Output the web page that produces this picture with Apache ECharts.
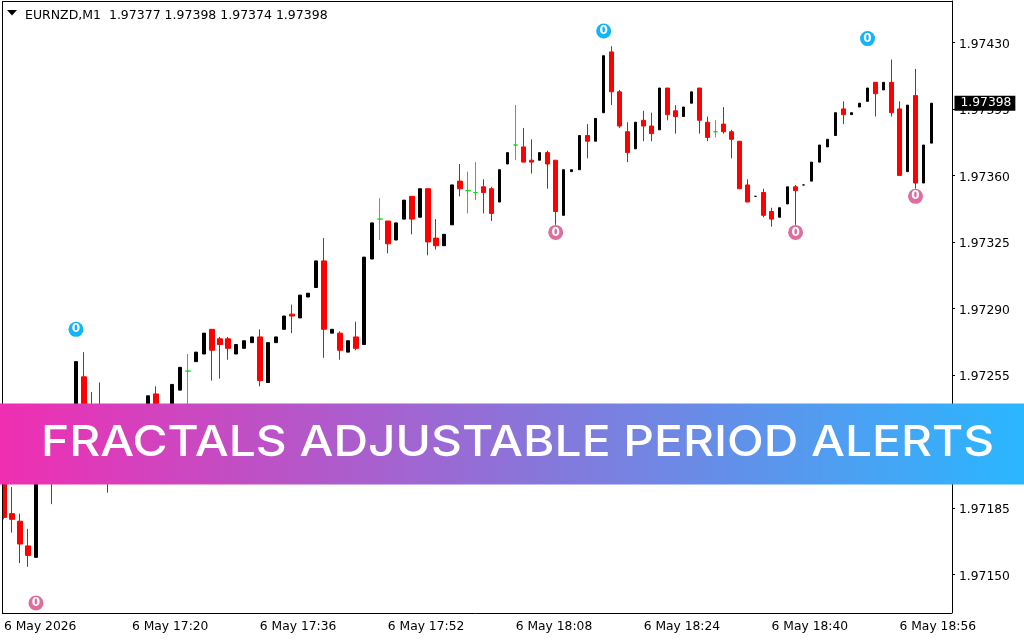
<!DOCTYPE html>
<html>
<head>
<meta charset="utf-8">
<title>EURNZD M1</title>
<script src="https://cdn.jsdelivr.net/npm/echarts@6/dist/echarts.min.js"></script>
<style>
html, body { margin: 0; padding: 0; background: #fff; }
#chart { width: 1024px; height: 640px; }
</style>
</head>
<body>
<div id="chart"></div>
<script>
// one bar per minute, 6 May 17:04 to 19:00 (two empty slots on the right)
var startMinute = 17 * 60 + 4;
var slotCount = 119;
var xTickEvery = 16;
var xTickLabels = ['6 May 2026', '6 May 17:20', '6 May 17:36', '6 May 17:52', '6 May 18:08', '6 May 18:24', '6 May 18:40', '6 May 18:56'];
var yTicks = [1.97150, 1.97185, 1.97220, 1.97255, 1.97290, 1.97325, 1.97360, 1.97395, 1.97430];

var opens = [
  1.97205,1.97182,1.97178,1.97165,1.97159,1.97205,1.97216,1.97205,1.97221,1.97234,
  1.97254,1.97226,1.97234,1.97232,1.97213,1.97229,1.97221,1.97237,1.97232,1.97245,
  1.97232,1.97234,1.97247,1.97257,1.97262,1.97266,1.97279,1.97274,1.97274,1.97266,
  1.97269,1.97272,1.97275,1.97251,1.97272,1.97279,1.97287,1.97285,1.97296,1.97301,
  1.97315,1.97277,1.97277,1.97267,1.97275,1.97271,1.97316,1.97337,1.97336,1.97326,
  1.97337,1.97349,1.97338,1.97353,1.97327,1.97323,1.97334,1.97357,1.97352,1.97351,
  1.97354,1.97353,1.97346,1.97366,1.97376,1.97375,1.97368,1.97368,1.97372,1.97368,
  1.97339,1.97362,1.97363,1.97381,1.97378,1.97393,1.97425,1.97404,1.97383,1.97374,
  1.97389,1.97386,1.97384,1.97406,1.97394,1.97391,1.97398,1.97406,1.97388,1.97383,
  1.97387,1.97383,1.97378,1.97355,1.97349,1.97351,1.97341,1.97338,1.97345,1.97354,
  1.97355,1.97357,1.97367,1.97375,1.97381,1.97395,1.97392,1.97396,1.97399,1.97409,
  1.97405,1.97409,1.97395,1.97362,1.97402,1.97356,1.97377
];
var highs = [
  1.97205,1.97196,1.97182,1.97174,1.97205,1.97218,1.97221,1.97221,1.97237,1.97262,
  1.97267,1.97246,1.97251,1.97239,1.97229,1.97234,1.97234,1.97239,1.97244,1.97249,
  1.97239,1.97250,1.97259,1.97266,1.97267,1.97277,1.97279,1.97275,1.97275,1.97271,
  1.97273,1.97275,1.97279,1.97272,1.97275,1.97286,1.97292,1.97297,1.97298,1.97315,
  1.97327,1.97279,1.97278,1.97273,1.97283,1.97317,1.97335,1.97348,1.97336,1.97335,
  1.97347,1.97349,1.97353,1.97353,1.97337,1.97329,1.97355,1.97366,1.97362,1.97367,
  1.97358,1.97354,1.97363,1.97372,1.97397,1.97385,1.97379,1.97372,1.97373,1.97368,
  1.97363,1.97363,1.97381,1.97387,1.97390,1.97423,1.97428,1.97405,1.97388,1.97388,
  1.97394,1.97393,1.97406,1.97406,1.97397,1.97396,1.97404,1.97406,1.97391,1.97389,
  1.97396,1.97384,1.97378,1.97358,1.97349,1.97353,1.97343,1.97343,1.97354,1.97355,
  1.97355,1.97367,1.97376,1.97379,1.97393,1.97399,1.97393,1.97398,1.97406,1.97409,
  1.97409,1.97421,1.97399,1.97397,1.97416,1.97376,1.97398
];
var lows = [
  1.97179,1.97172,1.97156,1.97154,1.97159,1.97205,1.97187,1.97205,1.97221,1.97234,
  1.97215,1.97205,1.97211,1.97193,1.97213,1.97216,1.97221,1.97226,1.97232,1.97232,
  1.97232,1.97234,1.97247,1.97234,1.97262,1.97266,1.97252,1.97253,1.97263,1.97266,
  1.97269,1.97272,1.97249,1.97251,1.97272,1.97279,1.97277,1.97285,1.97296,1.97301,
  1.97264,1.97277,1.97263,1.97267,1.97268,1.97271,1.97316,1.97326,1.97319,1.97326,
  1.97337,1.97329,1.97338,1.97318,1.97321,1.97323,1.97334,1.97349,1.97340,1.97347,
  1.97340,1.97336,1.97346,1.97366,1.97368,1.97367,1.97361,1.97368,1.97353,1.97334,
  1.97339,1.97362,1.97363,1.97369,1.97378,1.97393,1.97397,1.97385,1.97367,1.97374,
  1.97378,1.97378,1.97384,1.97389,1.97382,1.97391,1.97398,1.97382,1.97378,1.97380,
  1.97382,1.97369,1.97353,1.97346,1.97349,1.97338,1.97333,1.97338,1.97345,1.97334,
  1.97355,1.97357,1.97367,1.97375,1.97381,1.97387,1.97392,1.97396,1.97399,1.97391,
  1.97405,1.97391,1.97360,1.97362,1.97353,1.97356,1.97377
];
var closes = [
  1.97180,1.97179,1.97166,1.97160,1.97205,1.97218,1.97205,1.97221,1.97237,1.97262,
  1.97221,1.97218,1.97226,1.97213,1.97229,1.97221,1.97234,1.97229,1.97244,1.97236,
  1.97239,1.97250,1.97259,1.97257,1.97267,1.97277,1.97268,1.97271,1.97269,1.97271,
  1.97273,1.97275,1.97252,1.97272,1.97275,1.97286,1.97286,1.97297,1.97298,1.97315,
  1.97279,1.97279,1.97268,1.97273,1.97269,1.97317,1.97335,1.97337,1.97324,1.97335,
  1.97347,1.97337,1.97353,1.97325,1.97323,1.97329,1.97355,1.97353,1.97352,1.97351,
  1.97351,1.97340,1.97363,1.97372,1.97376,1.97367,1.97367,1.97372,1.97366,1.97341,
  1.97363,1.97363,1.97381,1.97378,1.97390,1.97423,1.97404,1.97386,1.97372,1.97388,
  1.97386,1.97382,1.97406,1.97392,1.97391,1.97396,1.97404,1.97389,1.97380,1.97383,
  1.97383,1.97379,1.97353,1.97346,1.97349,1.97339,1.97337,1.97343,1.97354,1.97352,
  1.97355,1.97367,1.97376,1.97379,1.97393,1.97392,1.97393,1.97398,1.97406,1.97403,
  1.97409,1.97393,1.97360,1.97397,1.97356,1.97376,1.97398
];

// fractal markers: [bar index, price]
var fractalsUp = [[9, 1.97279], [75, 1.97436], [108, 1.97432]];
var fractalsDown = [[4, 1.97135], [69, 1.97330], [99, 1.97330], [114, 1.97349]];
var lastPrice = 1.97398;

var headerText = 'EURNZD,M1  1.97377 1.97398 1.97374 1.97398';
var bannerText = 'FRACTALS ADJUSTABLE PERIOD ALERTS';

var uiFont = '"DejaVu Sans"';

var categories = [];
for (var m = 0; m < slotCount; m++) {
    var t = startMinute + m;
    var hh = Math.floor(t / 60), mm = t % 60;
    categories.push('6 May ' + hh + ':' + (mm < 10 ? '0' : '') + mm);
}
categories[0] = xTickLabels[0];

// split the bars by colour, each colour has its own body width
function barsWhere(test) {
    var out = [];
    for (var i = 0; i < opens.length; i++) {
        if (test(opens[i], closes[i], highs[i])) {
            out.push([i, opens[i], closes[i], lows[i], highs[i]]);
        }
    }
    return out;
}
var redBars = barsWhere(function (o, c) { return c < o; });
var blackBars = barsWhere(function (o, c, h) { return c > o || (c === o && h === o); });
var greenBars = barsWhere(function (o, c, h) { return c === o && h > o; });

function candleSeries(name, data, color, width) {
    return {
        name: name,
        type: 'candlestick',
        data: data,
        encode: { x: 0, y: [1, 2, 3, 4] },
        barWidth: width,
        itemStyle: { color: color, color0: color, borderColor: color, borderColor0: color, borderColorDoji: color, borderWidth: 1 },
        silent: true,
        animation: false
    };
}

function fractalSeries(name, data, color) {
    return {
        name: name,
        type: 'scatter',
        data: data,
        symbol: 'circle',
        symbolSize: 15,
        itemStyle: { color: color, opacity: 1 },
        label: { show: true, formatter: '0', position: 'inside', color: '#fff', fontFamily: uiFont, fontWeight: 'bold', fontSize: 12 },
        silent: true,
        animation: false,
        z: 5
    };
}

var chart = echarts.init(document.getElementById('chart'));
chart.setOption({
    animation: false,
    backgroundColor: '#fff',
    title: {
        text: headerText,
        left: 25, top: 9, padding: 0,
        textStyle: { fontFamily: uiFont, fontSize: 12.5, fontWeight: 'normal', color: '#000' }
    },
    grid: { left: -0.5, top: 1, width: 952, height: 612 },
    xAxis: {
        type: 'category',
        data: categories,
        boundaryGap: true,
        axisLine: { lineStyle: { color: '#000', width: 1 } },
        axisTick: {
            alignWithLabel: true, length: 3,
            interval: function (i) { return i % xTickEvery === 0; },
            lineStyle: { color: '#000' }
        },
        axisLabel: {
            align: 'left', margin: 8, color: '#000', fontFamily: uiFont, fontSize: 12.3,
            interval: function (i) { return i % xTickEvery === 0; }
        },
        splitLine: { show: false }
    },
    yAxis: {
        type: 'value',
        position: 'right',
        offset: 0.5,
        min: 1.971297,
        max: 1.974518,
        scale: true,
        axisLine: { show: true, lineStyle: { color: '#000', width: 1 } },
        axisTick: { show: true, length: 3, customValues: yTicks, lineStyle: { color: '#000' } },
        axisLabel: {
            margin: 7, color: '#000', fontFamily: uiFont, fontSize: 12.3,
            verticalAlign: 'top', lineHeight: 4,
            customValues: yTicks,
            formatter: function (v) { return v.toFixed(5); }
        },
        splitLine: { show: false }
    },
    series: [
        candleSeries('red', redBars, '#ff0000', 5),
        candleSeries('green', greenBars, '#00e600', 5),
        candleSeries('black', blackBars, '#000000', 3),
        fractalSeries('fractal up', fractalsUp, '#12b5fa'),
        fractalSeries('fractal down', fractalsDown, '#db709f'),
        {
            // current price tag, hangs off the last slot into the axis column
            name: 'last price',
            type: 'scatter',
            data: [[slotCount - 1, lastPrice]],
            symbolSize: 0,
            itemStyle: { opacity: 1 },
            silent: true,
            animation: false,
            z: 20,
            label: {
                show: true, position: 'right', distance: 7,
                formatter: lastPrice.toFixed(5),
                color: '#fff', backgroundColor: '#000',
                padding: [2, 4, 1, 6],
                fontFamily: uiFont, fontSize: 12.3
            }
        }
    ],
    graphic: [
        // chart frame, left and top edge
        { type: 'rect', z: 30, shape: { x: 0, y: 0, width: 2, height: 614 }, style: { fill: '#fff' } },
        { type: 'line', z: 31, shape: { x1: 2.5, y1: 1, x2: 2.5, y2: 613 }, style: { stroke: '#000', lineWidth: 1 } },
        { type: 'line', z: 31, shape: { x1: 2, y1: 1.5, x2: 952, y2: 1.5 }, style: { stroke: '#000', lineWidth: 1 } },
        // dropdown triangle of the header
        { type: 'polygon', z: 31, shape: { points: [[7, 10], [17, 10], [12, 15.5]] }, style: { fill: '#000' } },
        // banner over the chart
        {
            type: 'rect', z: 40,
            shape: { x: 0, y: 403.5, width: 1024, height: 81 },
            style: {
                fill: new echarts.graphic.LinearGradient(0, 0, 1, 0, [
                    { offset: 0, color: '#f02eb2' },
                    { offset: 1, color: '#2ab7ff' }
                ])
            }
        },
        {
            type: 'text', z: 41, x: 41, y: 443, scaleX: 1.114,
            style: {
                text: bannerText, fill: '#fff',
                font: '500 43px Inter', textVerticalAlign: 'middle', textAlign: 'left'
            }
        }
    ]
});
</script>
</body>
</html>
